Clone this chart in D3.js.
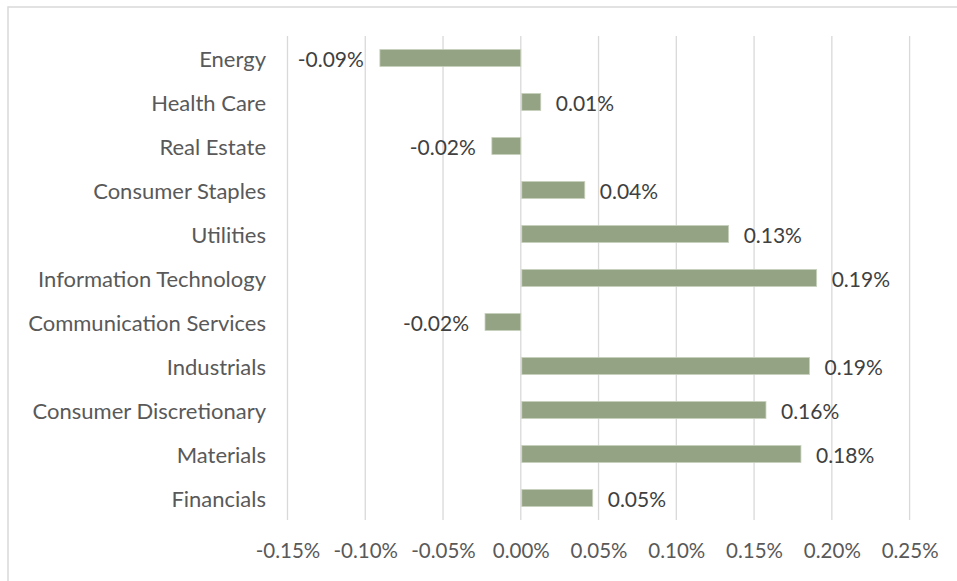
<!DOCTYPE html>
<html><head><meta charset="utf-8">
<script src="https://cdn.jsdelivr.net/npm/d3@7"></script>
<style>body{margin:0;background:#fff;} svg{display:block;}</style>
</head><body>
<svg id="chart" width="957" height="581"></svg>
<script>
const categories = ["Energy","Health Care","Real Estate","Consumer Staples","Utilities","Information Technology","Communication Services","Industrials","Consumer Discretionary","Materials","Financials"];
const values = [-0.0906, 0.0122, -0.0186, 0.0405, 0.1330, 0.1896, -0.0230, 0.1850, 0.1570, 0.1795, 0.0456];
const labels = ["-0.09%","0.01%","-0.02%","0.04%","0.13%","0.19%","-0.02%","0.19%","0.16%","0.18%","0.05%"];
const tickValues = [-0.15,-0.10,-0.05,0,0.05,0.10,0.15,0.20,0.25];
const tickLabels = ["-0.15%","-0.10%","-0.05%","0.00%","0.05%","0.10%","0.15%","0.20%","0.25%"];

(function(){
const svg = d3.select("#chart");
const font = "Lato, 'Open Sans', sans-serif";
const textColor = "#595959";
const plotLeft = 287.5, plotRight = 909.6, plotTop = 36, plotBottom = 520;

svg.append("rect").attr("x",8).attr("y",7).attr("width",960).attr("height",590)
  .attr("fill","none").attr("stroke","#d9d9d9").attr("stroke-width",1.5);

const x = d3.scaleLinear().domain([-0.15,0.25]).range([plotLeft,plotRight]);
const y = d3.scaleBand().domain(categories).range([plotTop,plotBottom]).paddingInner(0.61).paddingOuter(0.305);

svg.append("g").selectAll("line").data(tickValues).join("line")
  .attr("x1",d=>x(d)).attr("x2",d=>x(d)).attr("y1",plotTop).attr("y2",plotBottom)
  .attr("stroke","#d9d9d9").attr("stroke-width",1.3);

const xAxis = d3.axisBottom(x).tickValues(tickValues).tickFormat((d,i)=>tickLabels[i]).tickSize(0).tickPadding(0);
const gx = svg.append("g").attr("transform",`translate(0,${plotBottom+23})`).call(xAxis);
gx.select(".domain").remove();
gx.selectAll("text").attr("fill",textColor).attr("font-family",font).attr("font-size",20.5);

const yAxis = d3.axisLeft(y).tickSize(0).tickPadding(0);
const gy = svg.append("g").attr("transform",`translate(266,1.5)`).call(yAxis);
gy.select(".domain").remove();
gy.selectAll("text").attr("fill",textColor).attr("font-family",font).attr("font-size",22);

svg.append("g").selectAll("rect").data(values).join("rect")
  .attr("x",d=>x(Math.min(0,d))+ (d>0?1:0))
  .attr("width",d=>Math.abs(x(d)-x(0)))
  .attr("y",(d,i)=>y(categories[i]))
  .attr("height",y.bandwidth())
  .attr("fill","#94a383").attr("stroke","#c9d1bf").attr("stroke-width",0.8);

svg.append("g").selectAll("text").data(values).join("text")
  .attr("x",d=>d>=0? x(d)+16 : x(d)-16)
  .attr("y",(d,i)=>y(categories[i])+y.bandwidth()/2+1.5)
  .attr("dy","0.35em")
  .attr("text-anchor",d=>d>=0?"start":"end")
  .attr("fill","#404040").attr("font-family",font).attr("font-size",21)
  .text((d,i)=>labels[i]);
})();
</script>
</body></html>
